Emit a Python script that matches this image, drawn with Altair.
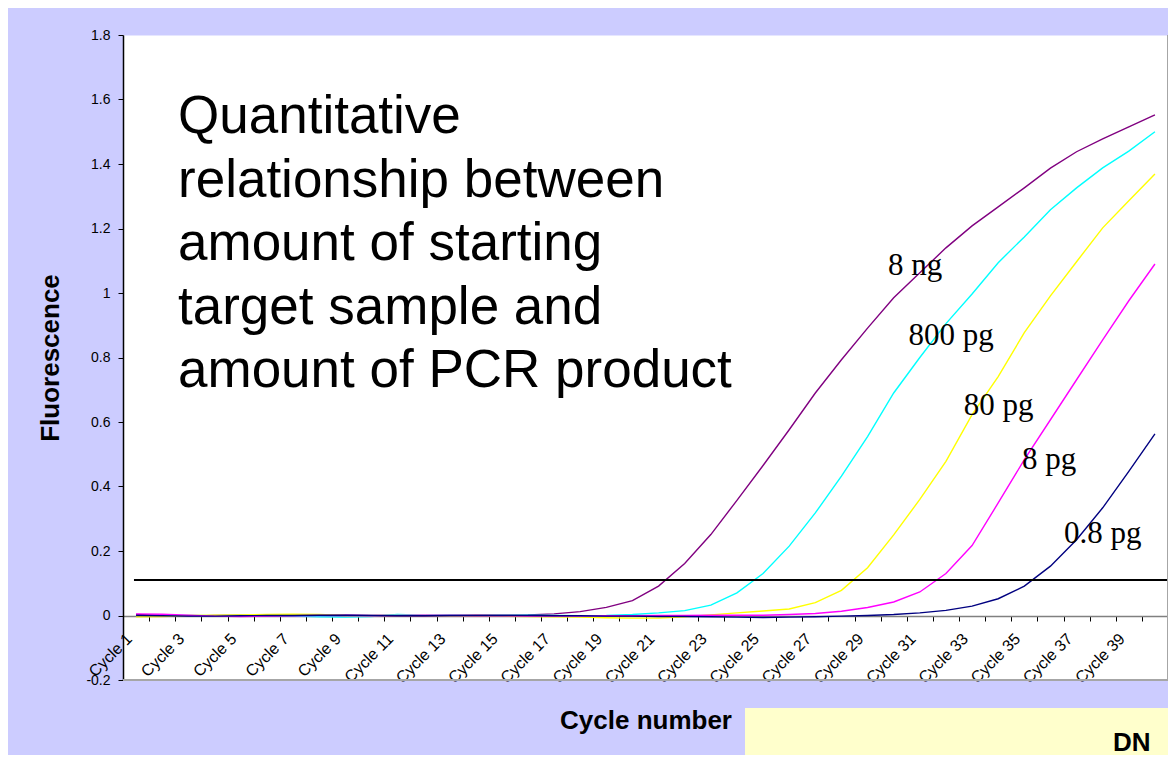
import altair as alt
import pandas as pd

# ---------------- data ----------------
cycles = list(range(1, 41))

series_names = ["8 ng", "800 pg", "80 pg", "8 pg", "0.8 pg"]
series_colors = ["#800080", "#00FFFF", "#FFFF00", "#FF00FF", "#000080"]

fluor_8ng = [0.003, 0.000, -0.002, 0.000, 0.001, 0.000, -0.001, 0.000, 0.001, 0.000,
             0.000, -0.001, 0.000, 0.001, 0.001, 0.002, 0.005, 0.012, 0.025, 0.046,
             0.091, 0.161, 0.251, 0.357, 0.465, 0.576, 0.690, 0.793, 0.891, 0.985,
             1.063, 1.140, 1.208, 1.267, 1.326, 1.387, 1.438, 1.478, 1.515, 1.552]
fluor_800pg = [-0.002, 0.001, 0.000, -0.001, 0.000, 0.000, -0.002, -0.004, -0.005, -0.003,
               0.003, 0.001, 0.000, -0.001, 0.000, 0.001, 0.000, -0.001, 0.000, 0.003,
               0.008, 0.015, 0.032, 0.070, 0.130, 0.215, 0.318, 0.432, 0.555, 0.690,
               0.800, 0.905, 0.997, 1.094, 1.174, 1.258, 1.326, 1.388, 1.440, 1.500]
fluor_80pg = [-0.004, -0.003, 0.000, 0.001, 0.002, 0.003, 0.004, 0.003, 0.000, -0.001,
              0.000, 0.000, -0.001, -0.002, -0.002, -0.003, -0.004, -0.005, -0.007, -0.008,
              -0.008, -0.004, 0.002, 0.008, 0.014, 0.020, 0.040, 0.078, 0.148, 0.250,
              0.360, 0.478, 0.623, 0.741, 0.877, 0.991, 1.097, 1.202, 1.286, 1.369]
fluor_8pg = [0.005, 0.004, 0.001, -0.002, -0.003, -0.002, -0.001, 0.000, 0.000, -0.001,
             0.000, 0.001, 0.000, -0.001, -0.001, -0.002, -0.002, -0.002, -0.001, -0.001,
             0.000, 0.000, 0.001, 0.001, 0.001, 0.003, 0.006, 0.013, 0.025, 0.042,
             0.073, 0.130, 0.217, 0.349, 0.483, 0.607, 0.731, 0.855, 0.976, 1.090]
fluor_08pg = [0.000, -0.001, -0.002, -0.002, -0.001, 0.000, 0.000, 0.001, 0.001, 0.000,
              -0.001, -0.001, 0.000, 0.000, 0.000, 0.000, -0.001, -0.001, -0.002, -0.002,
              -0.003, -0.003, -0.004, -0.005, -0.006, -0.005, -0.004, -0.002, 0.000, 0.003,
              0.008, 0.016, 0.029, 0.052, 0.091, 0.153, 0.235, 0.334, 0.447, 0.563]

threshold_value = 0.11
threshold_start = 0.92
threshold_end = 40.5

# series label annotations (cycle position, fluorescence position)
label_cycle = [30.82, 32.20, 34.02, 35.95, 38.00]
label_value = [1.056, 0.840, 0.623, 0.455, 0.226]

y_ticks = [-0.2, 0.0, 0.2, 0.4, 0.6, 0.8, 1.0, 1.2, 1.4, 1.6, 1.8]
x_boundaries = [c - 0.5 for c in range(1, 42)]

big_text = ("Quantitative\nrelationship between\namount of starting\n"
            "target sample and\namount of PCR product")

# ---------------- tables ----------------
all_series = [fluor_8ng, fluor_800pg, fluor_80pg, fluor_8pg, fluor_08pg]
rows = []
for name, vals in zip(series_names, all_series):
    for c, v in zip(cycles, vals):
        rows.append({"series": name, "cycle": c, "value": v})
df = pd.DataFrame(rows)
df_lab = pd.DataFrame({"name": series_names, "cycle": label_cycle, "value": label_value})
df_thr = pd.DataFrame({"cycle": [threshold_start], "cycle_end": [threshold_end],
                       "value": [threshold_value]})
one = pd.DataFrame({"k": [0]})

PLOT_W = 1045
PLOT_H = 645
SANS = "Liberation Sans"
SERIF = "Liberation Serif"

x_scale = alt.Scale(domain=[0.5, 40.5], nice=False, zero=False)
y_scale = alt.Scale(domain=[-0.2, 1.8], nice=False, zero=False)

x_axis = alt.Axis(
    values=x_boundaries,
    labelExpr="((datum.value + 0.5) % 2 == 1) && datum.value < 40 ? 'Cycle ' + (datum.value + 0.5) : ''",
    labelAngle=-45, labelAlign="right", labelBaseline="middle",
    labelOffset=6, labelPadding=15,
    labelFont=SANS, labelFontSize=16, labelColor="#000000",
    labelOverlap=False, labelFlush=False, labelBound=False,
    tickSize=5, tickColor="#000000", tickWidth=1,
    domainColor="#808080", domainWidth=1.5,
    grid=False, offset=-64,
    title="Cycle number", titleFont=SANS, titleFontSize=26, titleFontWeight="bold",
    titleColor="#000000", titleX=PLOT_W / 2, titleY=104, titleAlign="center",
    titleBaseline="middle", titleAngle=0,
)
y_axis = alt.Axis(
    values=y_ticks,
    labelExpr="'' + (round(datum.value * 10) / 10)",
    labelFont=SANS, labelFontSize=14, labelColor="#000000", labelPadding=8,
    tickSize=5, tickColor="#000000", tickWidth=1,
    domainColor="#000000", domainWidth=1.5, grid=False,
    title="Fluorescence", titleFont=SANS, titleFontSize=26, titleFontWeight="bold",
    titleColor="#000000", titleX=-73, titleY=PLOT_H / 2, titleAngle=270,
    titleAlign="center", titleBaseline="middle",
)

X = alt.X("cycle:Q", scale=x_scale, axis=x_axis, title="Cycle number")
Y = alt.Y("value:Q", scale=y_scale, axis=y_axis, title="Fluorescence")

lines = alt.Chart(df).mark_line(strokeWidth=1.4).encode(
    x=X,
    y=Y,
    color=alt.Color("series:N", scale=alt.Scale(domain=series_names, range=series_colors), legend=None),
    order="cycle:Q",
)

thr = alt.Chart(df_thr).mark_rule(color="#000000", strokeWidth=2).encode(
    x=X, x2="cycle_end:Q", y=Y,
)

labels = alt.Chart(df_lab).mark_text(
    font=SERIF, fontSize=31, align="center", baseline="alphabetic", color="#000000"
).encode(x=X, y=Y, text="name:N")

title_text = alt.Chart(one).mark_text(
    text=big_text, lineBreak="\n", font=SANS, fontSize=53, lineHeight=63.5,
    align="left", baseline="alphabetic", color="#000000"
).encode(x=alt.value(55), y=alt.value(98))

border_bottom = alt.Chart(one).mark_rule(color="#A6A6A6", strokeWidth=2).encode(
    x=alt.value(0), x2=alt.value(PLOT_W), y=alt.value(PLOT_H))
border_right = alt.Chart(one).mark_rule(color="#A6A6A6", strokeWidth=2).encode(
    x=alt.value(PLOT_W), y=alt.value(0), y2=alt.value(PLOT_H))

yellow_box = alt.Chart(one).mark_rect(color="#FFFFCC").encode(
    x=alt.value(622), x2=alt.value(PLOT_W + 10), y=alt.value(673), y2=alt.value(760))
dn_text = alt.Chart(one).mark_text(
    text="DN", font=SANS, fontSize=26, fontWeight="bold", align="left",
    baseline="alphabetic", color="#000000"
).encode(x=alt.value(990), y=alt.value(716))

chart = alt.layer(
    yellow_box, lines, thr, labels, title_text, border_bottom, border_right, dn_text
).properties(
    width=PLOT_W, height=PLOT_H,
    background="#CCCCFF",
    padding={"left": 115, "top": 27, "right": 0, "bottom": 75},
    autosize=alt.AutoSizeParams(type="none"),
).configure_view(fill="#FFFFFF", stroke="transparent")

chart.save("out.html", embed_options={"renderer": "svg", "actions": False})
